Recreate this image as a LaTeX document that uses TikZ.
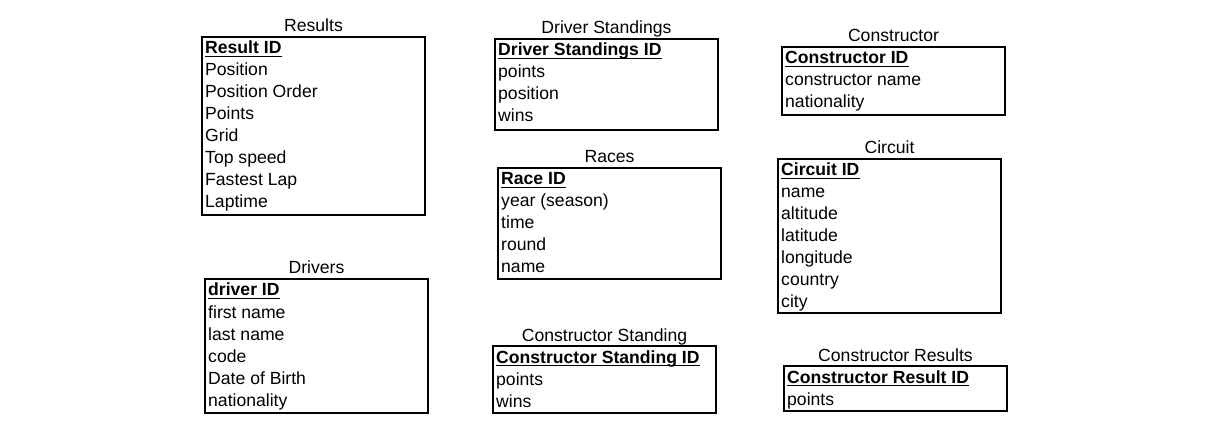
\documentclass[tikz,border=0pt]{standalone}
\usepackage{fontspec}
\setmainfont{Liberation Sans}
\usepackage{tikz}
\usetikzlibrary{positioning}
\newcommand\entsize{\fontsize{17.6}{21}\selectfont}
\tikzset{
	entbox/.style={draw, line width=1.2pt, inner sep=0pt, outer sep=0pt, anchor=north west, minimum width=223pt},
	enttitle/.style={inner sep=0pt, anchor=base, font=\entsize},
	entrow/.style={inner sep=0pt, anchor=base west, font=\entsize},
	entkey/.style={entrow, font=\entsize\bfseries},
}
% #1 name, #2 left, #3 top, #4 bottom, #5 title, #6 key, #7 fields
\newcommand\entity[7]{%
	\node[entbox, minimum height={#4-#3}] (#1) at (#2, #3) {};
	\node[enttitle] (#1-title) at ([yshift=5pt]#1.north) {#5};
	\node[entkey] (#1-key) at ([xshift=3pt, yshift=-17pt]#1.north west) {#6};
	\draw[line width=1.3pt] ([yshift=-2.6pt]#1-key.base west) -- ([yshift=-2.6pt]#1-key.base east);
	\foreach \f [count=\i] in {#7}
		\node[entrow] (#1-\i) at ([xshift=3pt, yshift={-17pt-22pt*\i}]#1.north west) {\f};
}

\begin{document}
\begin{tikzpicture}[x=1pt, y=-1pt]
			%%%%% START %%%%%
			\useasboundingbox (0, 0) rectangle (1222, 435);
			
			\entity{results}{202}{37}{215}{Results}{Result ID}{Position, Position Order, Points, Grid, Top speed, Fastest Lap, Laptime}
			\entity{drivers}{205}{279}{413}{Drivers}{driver ID}{first name, last name, code, Date of Birth, nationality}
			
			\entity{drvstand}{495}{39}{130}{Driver Standings}{Driver Standings ID}{points, position, wins}
			\entity{races}{498}{168}{279}{Races}{Race ID}{year (season), time, round, name}
			\entity{constand}{493}{346}{413}{Constructor Standing}{Constructor Standing ID}{points, wins}
			
			\entity{constructor}{782}{47}{115}{Constructor}{Constructor ID}{constructor name, nationality}
			\entity{circuit}{778}{159}{313}{Circuit}{Circuit ID}{name, altitude, latitude, longitude, country, city}
			\entity{conresults}{784}{366}{411}{Constructor Results}{Constructor Result ID}{points}
			
			%%%%% END %%%%%
\end{tikzpicture}
\end{document}
